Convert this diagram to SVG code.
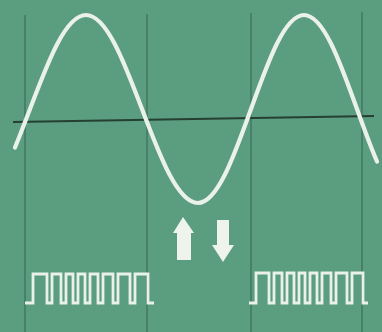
<svg xmlns="http://www.w3.org/2000/svg" width="382" height="332" viewBox="0 0 382 332">
  <style>
    .grid { stroke: #3e6f57; stroke-width: 1.2; fill: none; }
    .axis { stroke: #253f31; stroke-width: 1.8; fill: none; }
    .wave { stroke: #eaf1e8; stroke-width: 4.2; fill: none; stroke-linecap: round; }
    .pulse { stroke: #eaf1e8; stroke-width: 2.8; fill: none; stroke-linejoin: miter; }
    .arrow { fill: #eef3ec; }
  </style>
  <rect x="0" y="0" width="382" height="332" fill="#5a9d7f"/>
  <g id="grid">
    <line class="grid" x1="25" y1="15" x2="25" y2="332"/>
    <line class="grid" x1="147" y1="14" x2="147" y2="332"/>
    <line class="grid" x1="251" y1="13" x2="251" y2="332"/>
    <line class="grid" x1="362" y1="12" x2="362" y2="332"/>
    <line class="axis" x1="13" y1="122" x2="374" y2="116"/>
  </g>
  <g id="sine">
    <path class="wave" d="M15,147.5 C20,135.5 25,122.2 30,109 C48.26,60.84 65.73,15 86,15 C106.27,15 123.74,60.84 142,109 C160.26,157.16 177.73,203 198,203 C217.18,203 233.72,157.16 251,109 C268.28,60.84 284.82,15 304,15 C323.18,15 339.72,60.84 357,109 C363.67,127.58 370.33,146.1 377,161.5"/>
  </g>
  <g id="arrows">
    <polygon class="arrow" points="183,217 194,233 191,233 191,260 177,260 177,233 173,233"/>
    <polygon class="arrow" points="217,220 229,220 229,245 234,245 223,262 212,245 217,245"/>
  </g>
  <g id="pulses-left">
    <path class="pulse" d="M25,303 H33 V274 H47 V303 H52 V274 H61 V303 H66 V274 H73 V303 H78 V274 H85 V303 H90 V274 H98 V303 H103 V274 H113 V303 H118 V274 H130 V303 H135 V274 H148 V303 H154"/>
  </g>
  <g id="pulses-right">
    <path class="pulse" d="M249,303 H256 V273 H269 V303 H274 V273 H282 V303 H287 V273 H294 V303 H299 V273 H305 V303 H310 V273 H317 V303 H322 V273 H331 V303 H336 V273 H347 V303 H352 V273 H363 V303 H368"/>
  </g>
</svg>
